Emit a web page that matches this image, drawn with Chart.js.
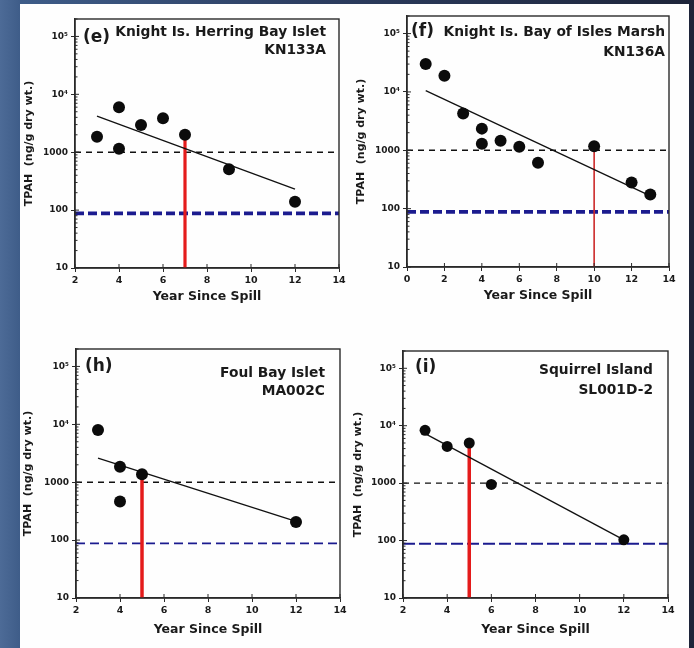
<!DOCTYPE html>
<html>
<head>
<meta charset="utf-8">
<script src="https://cdn.jsdelivr.net/npm/chart.js@4.4.1/dist/chart.umd.min.js"></script>
<style>
  html, body { margin: 0; padding: 0; }
  body {
    width: 694px; height: 648px; position: relative; overflow: hidden;
    background: linear-gradient(90deg, #4d6b97 0%, #3e5c88 3%, #2c3d60 45%, #1d2439 100%);
  }
  #sheet { position: absolute; left: 20px; top: 4px; width: 669px; height: 644px; background: #fefefe; }
  canvas { position: absolute; }
</style>
</head>
<body>
<div id="sheet"></div>
<canvas id="chartE"></canvas>
<canvas id="chartF"></canvas>
<canvas id="chartH"></canvas>
<canvas id="chartI"></canvas>
<script>
// shared axis values
const yTicks = [10, 100, 1000, 10000, 100000];
const yTickLabels = ['10', '100', '1000', '10\u2074', '10\u2075'];
const yMin = 10;
const yMax = 200000;
const guideTpah = 1000;   // black dashed line
const cleanupTpah = 88;   // blue dashed line

// (e) Knight Is. Herring Bay Islet
const yearsE = [3, 4, 4, 5, 6, 7, 9, 12];
const tpahE = [1850, 6000, 1150, 2950, 3850, 2000, 510, 140];
const fitYearsE = [3, 12];
const fitTpahE = [4200, 230];
const markYearE = 7;
const markTpahE = 2000;
const xRangeE = [2, 14];

// (f) Knight Is. Bay of Isles Marsh
const yearsF = [1, 2, 3, 4, 4, 5, 6, 7, 10, 12, 13];
const tpahF = [30000, 19000, 4250, 2350, 1300, 1450, 1150, 610, 1170, 280, 175];
const fitYearsF = [1, 13];
const fitTpahF = [10500, 165];
const markYearF = 10;
const markTpahF = 1170;
const xRangeF = [0, 14];

// (h) Foul Bay Islet
const yearsH = [3, 4, 4, 5, 12];
const tpahH = [8000, 1850, 465, 1370, 205];
const fitYearsH = [3, 12];
const fitTpahH = [2600, 210];
const markYearH = 5;
const markTpahH = 1370;
const xRangeH = [2, 14];

// (i) Squirrel Island
const yearsI = [3, 4, 5, 6, 12];
const tpahI = [8300, 4350, 5000, 950, 103];
const fitYearsI = [3, 12];
const fitTpahI = [7300, 103];
const markYearI = 5;
const markTpahI = 5000;
const xRangeI = [2, 14];

const FONT = "'DejaVu Sans', 'Liberation Sans', Arial, sans-serif";
const INK = '#1a1a1a';

function pts(xs, ys) {
    return xs.map((x, i) => ({ x: x, y: ys[i] }));
}

// frame, inner tick marks and the panel captions
const framePlugin = {
    id: 'frame',
    afterDraw(chart) {
        const ctx = chart.ctx;
        const a = chart.chartArea;
        const xs = chart.scales.x;
        const ys = chart.scales.y;
        const cap = chart.options.plugins.frame;
        ctx.save();
        ctx.strokeStyle = '#2a2a2a';
        ctx.lineWidth = 1.4;
        ctx.strokeRect(a.left, a.top, a.right - a.left, a.bottom - a.top);

        ctx.lineWidth = 1;
        ctx.beginPath();
        yTicks.forEach(d => {
            const py = ys.getPixelForValue(d);
            ctx.moveTo(a.left, py);
            ctx.lineTo(a.left + 4, py);
            for (let m = 2; m <= 9; m++) {
                if (d * m > yMax) break;
                const my = ys.getPixelForValue(d * m);
                ctx.moveTo(a.left, my);
                ctx.lineTo(a.left + 2.5, my);
            }
        });
        xs.ticks.forEach(t => {
            const px = xs.getPixelForValue(t.value);
            ctx.moveTo(px, a.bottom);
            ctx.lineTo(px, a.bottom - 4);
        });
        ctx.stroke();

        ctx.fillStyle = INK;
        ctx.textBaseline = 'middle';
        ctx.font = 'bold 17px ' + FONT;
        ctx.textAlign = 'left';
        ctx.fillText(cap.tag, a.left + cap.tagDx, a.top + cap.tagDy);
        ctx.font = 'bold 13.8px ' + FONT;
        ctx.textAlign = 'right';
        ctx.fillText(cap.name, a.right - cap.nameDx, a.top + cap.nameDy);
        ctx.fillText(cap.code, a.right - cap.nameDx, a.top + cap.codeDy);
        ctx.restore();
    }
};

function makePanel(id, box, area, p) {
    const canvas = document.getElementById(id);
    canvas.width = box.width;
    canvas.height = box.height;
    canvas.style.left = box.left + 'px';
    canvas.style.top = box.top + 'px';

    const boxBottom = box.top + box.height;
    const xTitleFont = 12.5;
    const yTitleFont = 11;

    return new Chart(canvas, {
        type: 'scatter',
        data: {
            datasets: [
                {
                    data: pts(p.years, p.tpah),
                    pointRadius: p.r,
                    pointBackgroundColor: '#0b0b0b',
                    pointBorderColor: '#0b0b0b',
                    pointBorderWidth: 0
                },
                {
                    data: pts(p.fitYears, p.fitTpah),
                    showLine: true,
                    borderColor: '#111',
                    borderWidth: 1.3,
                    pointRadius: 0
                },
                {
                    data: pts([p.markYear, p.markYear], [yMin, p.markTpah]),
                    showLine: true,
                    borderColor: p.redColor,
                    borderWidth: p.redWidth,
                    pointRadius: 0
                },
                {
                    data: pts(p.xRange, [guideTpah, guideTpah]),
                    showLine: true,
                    borderColor: '#111',
                    borderWidth: 1.4,
                    borderDash: [6, 5],
                    pointRadius: 0
                },
                {
                    data: pts(p.xRange, [cleanupTpah, cleanupTpah]),
                    showLine: true,
                    borderColor: '#1b1b8f',
                    borderWidth: p.blueWidth,
                    borderDash: p.blueDash,
                    pointRadius: 0
                }
            ]
        },
        options: {
            responsive: false,
            animation: false,
            layout: {
                padding: {
                    left: 0,
                    top: area.top - box.top,
                    right: box.left + box.width - area.right,
                    bottom: 0
                }
            },
            plugins: {
                legend: { display: false },
                tooltip: { enabled: false },
                frame: p.caption
            },
            scales: {
                x: {
                    type: 'linear',
                    min: p.xRange[0],
                    max: p.xRange[1],
                    ticks: {
                        stepSize: 2,
                        padding: 3,
                        color: INK,
                        font: { family: FONT, size: 9.5, weight: 'bold' }
                    },
                    grid: { drawOnChartArea: false, tickLength: 4, color: '#2a2a2a' },
                    border: { color: '#2a2a2a', width: 1.4 },
                    title: {
                        display: true,
                        text: 'Year Since Spill',
                        color: INK,
                        font: { family: FONT, size: xTitleFont, weight: 'bold', lineHeight: 1.2 },
                        padding: { top: 0, bottom: boxBottom - p.xTitleY - xTitleFont * 0.6 }
                    },
                    afterFit(s) {
                        s.height = boxBottom - area.bottom;
                        s.paddingLeft = 0;
                        s.paddingRight = 0;
                    }
                },
                y: {
                    type: 'logarithmic',
                    min: yMin,
                    max: yMax,
                    afterBuildTicks(s) {
                        s.ticks = yTicks.map(v => ({ value: v }));
                    },
                    ticks: {
                        padding: 3,
                        color: INK,
                        font: { family: FONT, size: 9, weight: 'bold' },
                        callback: (v) => yTickLabels[yTicks.indexOf(v)]
                    },
                    grid: { drawOnChartArea: false, tickLength: 4, color: '#2a2a2a' },
                    border: { color: '#2a2a2a', width: 1.4 },
                    title: {
                        display: true,
                        text: 'TPAH  (ng/g dry wt.)',
                        color: INK,
                        font: { family: FONT, size: yTitleFont, weight: 'bold', lineHeight: 1.2 },
                        padding: { top: p.yTitleX - box.left - yTitleFont * 0.6, bottom: 0 }
                    },
                    afterFit(s) {
                        s.width = area.left - box.left;
                        s.paddingTop = 0;
                        s.paddingBottom = 0;
                    }
                }
            }
        },
        plugins: [framePlugin]
    });
}

makePanel('chartE',
    { left: 20, top: 3, width: 327, height: 312 },
    { left: 75, top: 19, right: 339, bottom: 268 },
    {
        years: yearsE, tpah: tpahE, fitYears: fitYearsE, fitTpah: fitTpahE,
        markYear: markYearE, markTpah: markTpahE, xRange: xRangeE,
        r: 6, redColor: '#e41b1b', redWidth: 3.2, blueWidth: 3.8, blueDash: [9, 4],
        xTitleY: 297, yTitleX: 29,
        caption: { tag: '(e)', name: 'Knight Is. Herring Bay Islet', code: 'KN133A',
                   tagDx: 8, tagDy: 19, nameDx: 13, nameDy: 13, codeDy: 31 }
    });

makePanel('chartF',
    { left: 347, top: 3, width: 342, height: 312 },
    { left: 407, top: 16, right: 669, bottom: 267 },
    {
        years: yearsF, tpah: tpahF, fitYears: fitYearsF, fitTpah: fitTpahF,
        markYear: markYearF, markTpah: markTpahF, xRange: xRangeF,
        r: 6, redColor: '#cc2a2a', redWidth: 1.6, blueWidth: 3.8, blueDash: [9, 4],
        xTitleY: 296, yTitleX: 361,
        caption: { tag: '(f)', name: 'Knight Is. Bay of Isles Marsh', code: 'KN136A',
                   tagDx: 4, tagDy: 16, nameDx: 4, nameDy: 16, codeDy: 36 }
    });

makePanel('chartH',
    { left: 20, top: 318, width: 327, height: 330 },
    { left: 76, top: 349, right: 340, bottom: 598 },
    {
        years: yearsH, tpah: tpahH, fitYears: fitYearsH, fitTpah: fitTpahH,
        markYear: markYearH, markTpah: markTpahH, xRange: xRangeH,
        r: 6, redColor: '#e41b1b', redWidth: 3.5, blueWidth: 1.8, blueDash: [9, 5],
        xTitleY: 630, yTitleX: 28,
        caption: { tag: '(h)', name: 'Foul Bay Islet', code: 'MA002C',
                   tagDx: 9, tagDy: 18, nameDx: 15, nameDy: 24, codeDy: 42 }
    });

makePanel('chartI',
    { left: 347, top: 318, width: 342, height: 330 },
    { left: 403, top: 351, right: 668, bottom: 598 },
    {
        years: yearsI, tpah: tpahI, fitYears: fitYearsI, fitTpah: fitTpahI,
        markYear: markYearI, markTpah: markTpahI, xRange: xRangeI,
        r: 5.5, redColor: '#e41b1b', redWidth: 3.5, blueWidth: 1.8, blueDash: [12, 4],
        xTitleY: 630, yTitleX: 358,
        caption: { tag: '(i)', name: 'Squirrel Island', code: 'SL001D-2',
                   tagDx: 12, tagDy: 17, nameDx: 15, nameDy: 19, codeDy: 39 }
    });
</script>
</body>
</html>
